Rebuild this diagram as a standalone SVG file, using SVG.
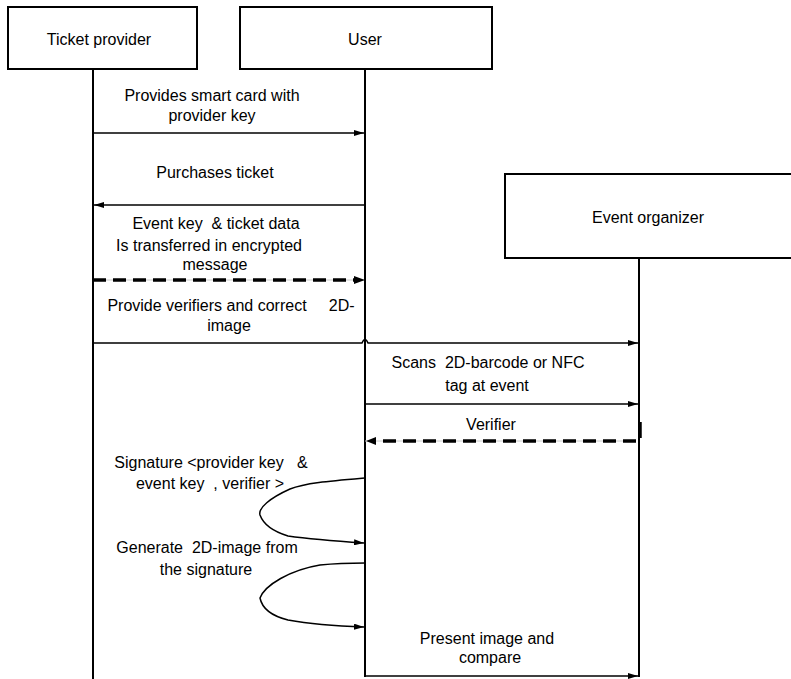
<svg xmlns="http://www.w3.org/2000/svg" width="791" height="679" viewBox="0 0 791 679">
<style>
text{font-family:"Liberation Sans",Arial,sans-serif;font-size:16px;fill:#000;text-anchor:middle}
.box{fill:#fff;stroke:#000;stroke-width:2}
.life{stroke:#000;stroke-width:2;fill:none}
.msg{stroke:#000;stroke-width:1.5;fill:none}
.dash{stroke:#000;stroke-width:3.5;stroke-dasharray:13 7;fill:none}
.guide{stroke:#c8c8c8;stroke-width:1;fill:none}
</style>
<defs>
<marker id="ah" viewBox="0 0 10 6" refX="10" refY="3" markerWidth="10" markerHeight="6" markerUnits="userSpaceOnUse" orient="auto">
<path d="M0,0 L10,3 L0,6 Z" fill="#000"/>
</marker>
</defs>
<g id="lifelines">
<line class="life" x1="93" y1="69" x2="93" y2="679"/>
<line class="life" x1="365" y1="69" x2="365" y2="677"/>
<line class="life" x1="639" y1="258" x2="639" y2="677"/>
</g>
<g id="ticket-provider">
<rect class="box" x="8" y="7" width="189" height="62"/>
<text x="99" y="45">Ticket provider</text>
</g>
<g id="user">
<rect class="box" x="240" y="7" width="252" height="62"/>
<text x="365" y="45">User</text>
</g>
<g id="event-organizer">
<path class="box" d="M795,174 H505 V258 H795"/>
<text x="648" y="223">Event organizer</text>
</g>
<g id="connectors">
<line class="msg" x1="93" y1="133" x2="364" y2="133" marker-end="url(#ah)"/>
<line class="msg" x1="365" y1="205" x2="94" y2="205" marker-end="url(#ah)"/>
<line class="guide" x1="93" y1="280" x2="364" y2="280"/>
<line class="dash" x1="93" y1="280" x2="354" y2="280"/>
<path d="M354,276 L365,280 L354,284 Z" fill="#000"/>
<path class="msg" d="M93,343 H362 Q365,336 368,343 H638" marker-end="url(#ah)"/>
<line class="msg" x1="365" y1="404" x2="638" y2="404" marker-end="url(#ah)"/>
<line class="guide" x1="365" y1="441" x2="636" y2="441"/>
<line class="dash" x1="636" y1="441" x2="376" y2="441"/>
<path d="M376,437 L366,441 L376,445 Z" fill="#000"/>
<line x1="640" y1="422" x2="640" y2="438" stroke="#000" stroke-width="3.5"/>
<path class="msg" d="M365,478 C330,481 305,483 290,489 C270,498 258,508 260,515 C264,526 275,532 288,536 C310,539 335,541 364,543" marker-end="url(#ah)"/>
<path class="msg" d="M365,563 C345,563 330,564 320,565 C290,570 265,585 260,598 C262,608 272,616 288,620 C310,624 335,626 364,627" marker-end="url(#ah)"/>
<line class="msg" x1="365" y1="676" x2="638" y2="676" marker-end="url(#ah)"/>
</g>
<g id="labels">
<text x="212" y="101">Provides smart card with</text>
<text x="212" y="121">provider key</text>
<text x="215" y="178">Purchases ticket</text>
<text x="216" y="229" xml:space="preserve">Event key  &amp; ticket data</text>
<text x="209" y="251">Is transferred in encrypted</text>
<text x="215" y="270">message</text>
<text x="231" y="311" xml:space="preserve">Provide verifiers and correct     2D-</text>
<text x="229" y="331">image</text>
<text x="488" y="368" xml:space="preserve">Scans  2D-barcode or NFC</text>
<text x="487" y="391">tag at event</text>
<text x="491" y="430">Verifier</text>
<text x="211" y="468" xml:space="preserve">Signature &lt;provider key   &amp;</text>
<text x="210" y="489" xml:space="preserve">event key  , verifier &gt;</text>
<text x="207" y="553" xml:space="preserve">Generate  2D-image from</text>
<text x="206" y="575">the signature</text>
<text x="487" y="644">Present image and</text>
<text x="490" y="663">compare</text>
</g>
</svg>
